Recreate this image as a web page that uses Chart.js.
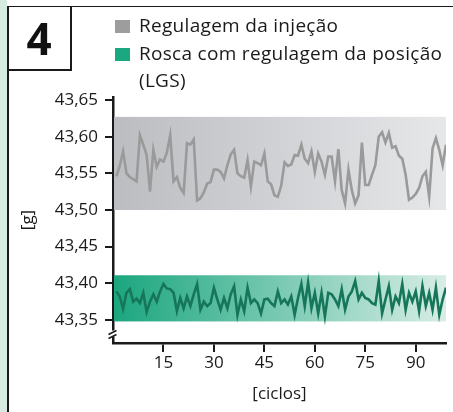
<!DOCTYPE html>
<html>
<head>
<meta charset="utf-8">
<script src="https://cdn.jsdelivr.net/npm/chart.js@4/dist/chart.umd.min.js"></script>
<style>
  html, body { margin: 0; padding: 0; background: #fff; }
  #wrap { position: relative; width: 453px; height: 412px; overflow: hidden; background: #fff; }
  #c { position: absolute; left: 0; top: 0; }
  .abs { position: absolute; }
  #strip { left: 0; top: 0; width: 7px; height: 412px; background: #d7ebe1; }
  #vline { left: 7px; top: 5.5px; width: 1.5px; height: 420px; background: #1a1a1a; }
  #hline { left: 7px; top: 5.5px; width: 460px; height: 1.5px; background: #1a1a1a; }
  #boxr { left: 70px; top: 5.5px; width: 1.5px; height: 65px; background: #1a1a1a; }
  #boxb { left: 7px; top: 69px; width: 64.5px; height: 1.5px; background: #1a1a1a; }
  #num { left: 8px; top: 7px; width: 62px; height: 62px; line-height: 62px; text-align: center;
         font-family: "Open Sans", sans-serif; font-weight: 700; font-size: 44px; color: #111; }
  .sw { position: absolute; width: 15px; height: 13px; }
  .lg { position: absolute; left: 139px; font-family: "Open Sans", sans-serif; font-size: 19px;
        letter-spacing: 0.3px; line-height: 19px; color: #1a1a1a; white-space: nowrap; }
</style>
</head>
<body>
<div id="wrap">
  <canvas id="c" width="453" height="412"></canvas>
  <div class="abs" id="strip"></div>
  <div class="abs" id="vline"></div>
  <div class="abs" id="hline"></div>
  <div class="abs" id="boxr"></div>
  <div class="abs" id="boxb"></div>
  <div class="abs" id="num">4</div>
  <div class="sw" id="sw1" style="left:115px;top:20px;background:#9d9d9d"></div>
  <div class="lg" id="lg1" style="top:16.4px">Regulagem da injeção</div>
  <div class="sw" id="sw2" style="left:115px;top:47.5px;background:#1aa880"></div>
  <div class="lg" id="lg2" style="top:44.1px">Rosca com regulagem da posição</div>
  <div class="lg" id="lg3" style="top:71.4px">(LGS)</div>
</div>
<script>
// ---- data ----
const cycles = [];
for (let i = 1; i <= 99; i++) cycles.push(i);

const injecaoValues = [
  43.546,43.560,43.580,43.550,43.545,43.542,43.539,43.602,43.589,43.575,
  43.525,43.582,43.559,43.569,43.566,43.578,43.602,43.539,43.545,43.530,
  43.523,43.591,43.589,43.596,43.513,43.516,43.524,43.536,43.538,43.555,
  43.555,43.552,43.543,43.561,43.576,43.582,43.550,43.546,43.544,43.568,
  43.532,43.566,43.564,43.561,43.577,43.539,43.535,43.520,43.518,43.533,
  43.565,43.560,43.562,43.575,43.574,43.589,43.570,43.564,43.580,43.552,
  43.577,43.566,43.548,43.573,43.573,43.539,43.583,43.527,43.509,43.555,
  43.527,43.509,43.520,43.592,43.534,43.534,43.548,43.561,43.600,43.606,
  43.592,43.605,43.585,43.587,43.574,43.570,43.548,43.514,43.517,43.522,
  43.530,43.546,43.552,43.518,43.584,43.598,43.582,43.561,43.589
];

const lgsValues = [
  43.389,43.382,43.365,43.387,43.392,43.375,43.379,43.373,43.387,43.361,
  43.375,43.385,43.375,43.389,43.399,43.393,43.392,43.387,43.362,43.380,
  43.366,43.382,43.369,43.385,43.399,43.364,43.375,43.369,43.373,43.394,
  43.378,43.364,43.380,43.366,43.385,43.396,43.357,43.378,43.362,43.394,
  43.373,43.378,43.373,43.359,43.378,43.379,43.373,43.369,43.389,43.373,
  43.378,43.371,43.382,43.357,43.380,43.399,43.369,43.401,43.366,43.387,
  43.359,43.387,43.355,43.387,43.385,43.378,43.369,43.392,43.364,43.382,
  43.389,43.403,43.378,43.387,43.380,43.378,43.373,43.371,43.403,43.359,
  43.378,43.396,43.364,43.382,43.373,43.399,43.364,43.387,43.375,43.389,
  43.362,43.396,43.369,43.387,43.364,43.394,43.357,43.378,43.394
];

const xTickValues = [15, 30, 45, 60, 75, 90];
const yTickValues = [43.35, 43.40, 43.45, 43.50, 43.55, 43.60, 43.65];

const injecaoBand = [43.50, 43.627];
const lgsBand = [43.348, 43.411];

const yTitle = '[g]';
const xTitle = '[ciclos]';

// ---- plugins ----
const bandsPlugin = {
  id: 'bands',
  beforeDatasetsDraw(chart) {
    const {ctx, chartArea, scales: {y}} = chart;
    const draw = (band, c1, c2) => {
      const top = y.getPixelForValue(band[1]);
      const bot = y.getPixelForValue(band[0]);
      const l = chartArea.left + 1, r = chartArea.right;
      const g = ctx.createLinearGradient(l, 0, r, 0);
      g.addColorStop(0, c1);
      g.addColorStop(1, c2);
      ctx.save();
      ctx.fillStyle = g;
      ctx.fillRect(l, top, r - l, bot - top);
      ctx.restore();
    };
    draw(injecaoBand, '#bcbdc1', '#e6e7e9');
    draw(lgsBand, '#1ba67f', '#d8ede5');
  }
};

const breakPlugin = {
  id: 'axisBreak',
  afterDraw(chart) {
    const {ctx, chartArea} = chart;
    const x = chartArea.left;
    ctx.save();
    ctx.fillStyle = '#fff';
    ctx.fillRect(x - 4, 330.5, 8, 6);
    ctx.strokeStyle = '#1a1a1a';
    ctx.lineWidth = 1.5;
    ctx.beginPath();
    ctx.moveTo(x - 4.5, 334.5); ctx.lineTo(x + 3.5, 330.5);
    ctx.moveTo(x - 4.5, 338.5); ctx.lineTo(x + 3.5, 334.5);
    ctx.stroke();
    ctx.restore();
  }
};

const fontFam = '"Open Sans", sans-serif';

new Chart(document.getElementById('c'), {
  type: 'line',
  data: {
    datasets: [
      {
        label: 'Regulagem da injeção',
        data: cycles.map((c, i) => ({x: c, y: injecaoValues[i]})),
        borderColor: '#9a9a9a',
        borderWidth: 2.6,
        pointRadius: 0,
        tension: 0,
        fill: false
      },
      {
        label: 'Rosca com regulagem da posição (LGS)',
        data: cycles.map((c, i) => ({x: c, y: lgsValues[i]})),
        borderColor: '#16765a',
        borderWidth: 2.6,
        pointRadius: 0,
        tension: 0,
        fill: false
      }
    ]
  },
  options: {
    responsive: false,
    animation: false,
    devicePixelRatio: 1,
    layout: { padding: { top: 97, right: 7, left: 0, bottom: 0 } },
    plugins: { legend: { display: false }, tooltip: { enabled: false } },
    scales: {
      x: {
        type: 'linear',
        min: 0,
        max: 99,
        afterBuildTicks(scale) { scale.ticks = xTickValues.map(v => ({value: v})); },
        afterFit(scale) { scale.height = 69; },
        grid: { drawOnChartArea: false, drawTicks: true, tickLength: 9, color: '#1a1a1a', lineWidth: 2 },
        border: { display: true, color: '#1a1a1a', width: 2.5 },
        ticks: { color: '#1a1a1a', font: { family: fontFam, size: 17 }, padding: 1, maxRotation: 0, autoSkip: false },
        title: { display: true, text: xTitle, color: '#1a1a1a', font: { family: fontFam, size: 17 }, padding: { top: 0, bottom: 8 } }
      },
      y: {
        type: 'linear',
        min: 43.3186,
        max: 43.6541,
        afterBuildTicks(scale) { scale.ticks = yTickValues.map(v => ({value: v})); },
        afterFit(scale) { scale.width = 113; },
        grid: { drawOnChartArea: false, drawTicks: true, tickLength: 8, color: '#1a1a1a', lineWidth: 2 },
        border: { display: true, color: '#1a1a1a', width: 2.5 },
        ticks: {
          color: '#1a1a1a', font: { family: fontFam, size: 17 }, padding: 7, autoSkip: false,
          callback: (v) => Number(v).toFixed(2).replace('.', ',')
        },
        title: { display: true, text: yTitle, color: '#1a1a1a', font: { family: fontFam, size: 17 }, padding: { top: 18, bottom: 0 } }
      }
    }
  },
  plugins: [bandsPlugin, breakPlugin]
});
</script>
</body>
</html>
